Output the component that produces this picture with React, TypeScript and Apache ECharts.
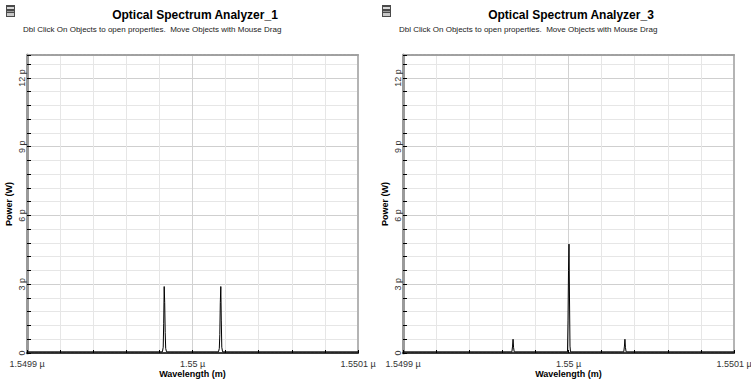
import React, { useEffect, useRef } from "react";
import * as echarts from "echarts";

// Wavelength axis (nm) and tick labels
const xMin = 1549.9;
const xMax = 1550.1;
const xStep = 0.02;
const xTickLabels = ["1.5499 µ", "1.55 µ", "1.5501 µ"];

// Power axis (pW) and tick labels
const yMax = 13;
const yStep = 0.6;
const yTickLabels = ["0", "3 p", "6 p", "9 p", "12 p"];

// Optical Spectrum Analyzer_1 trace: two carriers
const osa1Wavelength = [
  1549.9, 1549.9818, 1549.9823, 1549.9826, 1549.9829, 1549.9832, 1549.9835, 1549.9838, 1549.9843,
  1550.0157, 1550.0162, 1550.0165, 1550.0168, 1550.0171, 1550.0174, 1550.0177, 1550.0182, 1550.1,
];
const osa1Power = [
  0.05, 0.05, 0.25, 1.3, 2.9, 2.2, 0.9, 0.2, 0.05,
  0.05, 0.2, 0.8, 2.2, 2.9, 1.4, 0.25, 0.05, 0.05,
];

// Optical Spectrum Analyzer_3 trace: main line with two side products
const osa3Wavelength = [
  1549.9, 1549.9658, 1549.9662, 1549.9665, 1549.9668, 1549.9672,
  1549.9994, 1549.9997, 1550.0, 1550.0003, 1550.0006, 1550.0009, 1550.0012,
  1550.0334, 1550.0338, 1550.0341, 1550.0344, 1550.0348, 1550.1,
];
const osa3Power = [
  0.05, 0.05, 0.3, 0.6, 0.25, 0.05,
  0.05, 1.4, 3.6, 4.75, 2.4, 0.3, 0.05,
  0.05, 0.3, 0.6, 0.25, 0.05, 0.05,
];

const titles = ["Optical Spectrum Analyzer_1", "Optical Spectrum Analyzer_3"];
const hint = "Dbl Click On Objects to open properties.  Move Objects with Mouse Drag";

const FONT = "Liberation Sans, Arial, sans-serif";

function xLabel(v: number): string {
  const k = Math.round((v - xMin) / xStep);
  if (k % 5 !== 0) return "";
  return xTickLabels[k / 5] ?? "";
}

function yLabel(v: number): string {
  const k = Math.round(v / yStep);
  if (Math.abs(v - k * yStep) > 1e-6 || k % 5 !== 0) return "";
  return yTickLabels[k / 5] ?? "";
}

function panelAxes(gridIndex: number) {
  const bottom = {
    type: "value",
    gridIndex,
    position: "bottom",
    min: xMin,
    max: xMax,
    interval: xStep,
    name: "Wavelength (m)",
    nameLocation: "middle",
    nameGap: 16,
    nameMoveOverlap: false,
    nameTextStyle: { fontFamily: FONT, fontSize: 9, fontWeight: "bold", color: "#000" },
    axisLine: { onZero: false, lineStyle: { color: "#3a3a3a", width: 2, type: [3, 1] } },
    axisTick: { show: true, inside: true, length: 3, lineStyle: { color: "#000", width: 1 } },
    axisLabel: {
      show: true,
      interval: 0,
      margin: 6,
      fontFamily: FONT,
      fontSize: 9,
      color: "#333",
      formatter: xLabel,
    },
    splitLine: {
      show: true,
      lineStyle: { color: ["#d2d2d2", "#e6e6e6", "#e6e6e6", "#e6e6e6", "#e6e6e6"], width: 1 },
    },
  };
  const top = {
    type: "value",
    gridIndex,
    position: "top",
    min: xMin,
    max: xMax,
    interval: xStep,
    axisLine: { onZero: false, lineStyle: { color: "#a0a0a0", width: 2, type: [3, 1] } },
    axisTick: { show: false },
    axisLabel: { show: false },
    splitLine: { show: false },
  };
  const left = {
    type: "value",
    gridIndex,
    position: "left",
    min: 0,
    max: yMax,
    interval: yStep,
    name: "Power (W)",
    nameLocation: "middle",
    nameGap: 14,
    nameRotate: 90,
    nameMoveOverlap: false,
    nameTextStyle: { fontFamily: FONT, fontSize: 9, fontWeight: "bold", color: "#000" },
    axisLine: { onZero: false, lineStyle: { color: "#9a9a9a", width: 3 } },
    axisTick: { show: true, inside: true, length: 4, lineStyle: { color: "#000", width: 1 } },
    axisLabel: {
      show: true,
      interval: 0,
      rotate: 90,
      align: "center",
      verticalAlign: "top",
      margin: 10,
      fontFamily: FONT,
      fontSize: 9,
      color: "#333",
      formatter: yLabel,
    },
    splitLine: {
      show: true,
      lineStyle: { color: ["#cfcfcf", "#e6e6e6", "#e6e6e6", "#e6e6e6", "#e6e6e6"], width: 1 },
    },
  };
  const right = {
    type: "value",
    gridIndex,
    position: "right",
    min: 0,
    max: yMax,
    interval: yStep,
    axisLine: { onZero: false, lineStyle: { color: "#b4b4b4", width: 2 } },
    axisTick: { show: false },
    axisLabel: { show: false },
    splitLine: { show: false },
  };
  return { x: [bottom, top], y: [left, right] };
}

function icon(x: number, y: number) {
  return {
    type: "group",
    x,
    y,
    children: [
      { type: "rect", shape: { x: 0, y: 0, width: 9, height: 12 }, style: { fill: "#4a4a4a" } },
      { type: "rect", shape: { x: 1, y: 2, width: 7, height: 2 }, style: { fill: "#d8d8d8" } },
      { type: "rect", shape: { x: 1, y: 6, width: 7, height: 1 }, style: { fill: "#9a9a9a" } },
      { type: "rect", shape: { x: 1, y: 8, width: 7, height: 3 }, style: { fill: "#c8c8c8" } },
    ],
  };
}

function header(cx: number, left: number, title: string) {
  return [
    {
      type: "text",
      x: cx,
      y: 15,
      style: {
        text: title,
        font: `bold 12px ${FONT}`,
        fill: "#000",
        align: "center",
        verticalAlign: "middle",
      },
    },
    {
      type: "text",
      x: left,
      y: 29,
      style: {
        text: hint,
        font: `8px ${FONT}`,
        fill: "#222",
        align: "left",
        verticalAlign: "middle",
      },
    },
  ];
}

export default function App() {
  const ref = useRef<HTMLDivElement>(null);

  useEffect(() => {
    if (!ref.current) return;
    const chart = echarts.init(ref.current, undefined, { renderer: "svg" });
    const a0 = panelAxes(0);
    const a1 = panelAxes(1);

    chart.setOption({
      animation: false,
      backgroundColor: "#fff",
      grid: [
        { left: 27, right: 393, top: 55, bottom: 26, outerBoundsMode: "none", containLabel: false },
        { left: 403, right: 17, top: 55, bottom: 26, outerBoundsMode: "none", containLabel: false },
      ],
      xAxis: [...a0.x, ...a1.x],
      yAxis: [...a0.y, ...a1.y],
      graphic: [
        icon(6, 5),
        ...header(195, 23, titles[0]),
        icon(382, 5),
        ...header(571, 399, titles[1]),
      ],
      series: [
        {
          type: "line",
          xAxisIndex: 0,
          yAxisIndex: 0,
          showSymbol: false,
          lineStyle: { color: "#000", width: 1 },
          data: osa1Wavelength.map((w, i) => [w, osa1Power[i]]),
        },
        {
          type: "line",
          xAxisIndex: 2,
          yAxisIndex: 2,
          showSymbol: false,
          lineStyle: { color: "#000", width: 1 },
          data: osa3Wavelength.map((w, i) => [w, osa3Power[i]]),
        },
      ],
    });

    return () => chart.dispose();
  }, []);

  return (
    <div
      ref={ref}
      style={{ position: "fixed", left: 0, top: 0, width: 751, height: 379, background: "#fff" }}
    />
  );
}
